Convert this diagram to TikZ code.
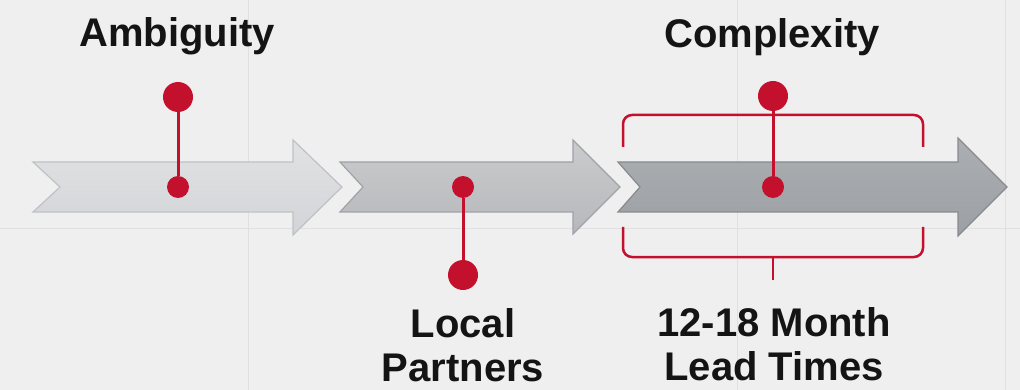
\documentclass[tikz,border=0pt]{standalone}
\usepackage{fontspec}
\setmainfont{Liberation Sans}
\definecolor{pinred}{RGB}{195,16,45}
\definecolor{bgc}{RGB}{239,239,240}
\definecolor{gridc}{RGB}{224,224,227}
\definecolor{txt}{RGB}{20,20,20}
\begin{document}
\begin{tikzpicture}[x=1pt,y=-1pt,
  dotbig/.style={circle,fill=pinred,inner sep=0pt,minimum size=30pt},
  dotsmall/.style={circle,fill=pinred,inner sep=0pt,minimum size=22pt},
  stem/.style={draw=pinred,line width=3pt},
  bracket/.style={draw=pinred,line width=2.5pt,rounded corners=9pt},
  lbl/.style={font=\bfseries\fontsize{40}{44}\selectfont,align=center,text=txt,inner sep=0pt},
  arrowbox/.style={line width=1.2pt,line join=miter},
  gridline/.style={draw=gridc,line width=1pt}]
\useasboundingbox (0,0) rectangle (1020,390);
\fill[bgc] (0,0) rectangle (1020,390);
% faint grid
\draw[gridline] (248,0) -- (248,390);
\draw[gridline] (737,0) -- (737,390);
\draw[gridline] (1005,0) -- (1005,390);
\draw[gridline] (0,229) -- (1020,229);
% arrows
\draw[arrowbox,draw={rgb,255:red,191;green,193;blue,196},top color={rgb,255:red,225;green,226;blue,228},bottom color={rgb,255:red,210;green,212;blue,215}]
  (33,162) -- (293,162) -- (293,140) -- (342,187) -- (293,235) -- (293,212) -- (33,212) -- (60,187) -- cycle;
\draw[arrowbox,draw={rgb,255:red,160;green,162;blue,165},top color={rgb,255:red,201;green,203;blue,205},bottom color={rgb,255:red,182;green,184;blue,187}]
  (340,162) -- (573,162) -- (573,140) -- (620,187) -- (573,234) -- (573,212) -- (340,212) -- (363,187) -- cycle;
\draw[arrowbox,draw={rgb,255:red,135;green,138;blue,142},top color={rgb,255:red,172;green,175;blue,178},bottom color={rgb,255:red,156;green,159;blue,163}]
  (618,162) -- (958,162) -- (958,138) -- (1007,187) -- (958,236) -- (958,212) -- (618,212) -- (640,187) -- cycle;
% bracket
\draw[bracket] (623,147) -- (623,115) -- (923,115) -- (923,147);
\draw[bracket] (623,227) -- (623,257) -- (923,257) -- (923,227);
\coordinate (tickend) at (773,280);
% pins
\node[dotbig] (at) at (178,97) {};
\node[dotsmall] (ab) at (178,187) {};
\node[dotsmall] (lt) at (463,187) {};
\node[dotbig] (lb) at (463,275) {};
\node[dotbig] (ct) at (773,96) {};
\node[dotsmall] (cb) at (773,187) {};
\coordinate (tickstart) at (773,257);
\draw[stem] (at) -- (ab);
\draw[stem] (lt) -- (lb);
\draw[stem] (ct) -- (cb);
\draw[draw=pinred,line width=2.5pt] (tickstart) -- (tickend);
% labels
\node[lbl,anchor=base] (amb) at (177,47) {Ambiguity};
\node[lbl,anchor=base] (cpx) at (772,48) {Complexity};
\node[lbl,anchor=base] (loc) at (463,381) {Local\\Partners};
\node[lbl,anchor=base] (lead) at (774,380) {12-18 Month\\Lead Times};
\end{tikzpicture}
\end{document}
